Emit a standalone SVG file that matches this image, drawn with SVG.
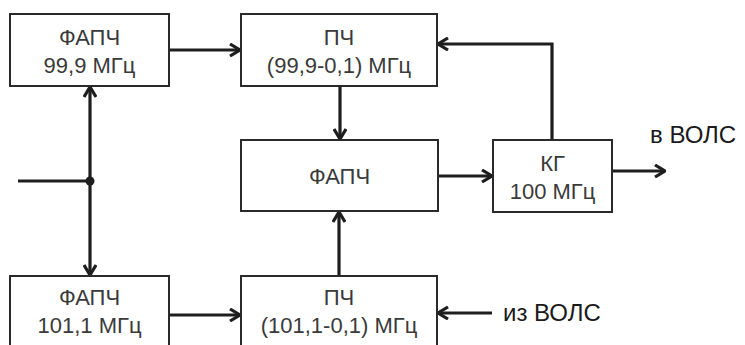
<svg xmlns="http://www.w3.org/2000/svg" width="745" height="345" viewBox="0 0 745 345">
<style>
.box{fill:#fff;stroke:#2a2a2a;stroke-width:2}
.t{font-family:"Liberation Sans",Arial,sans-serif;font-size:22px;fill:#3a3a3a;text-anchor:middle}
.lbl{font-family:"Liberation Sans",Arial,sans-serif;font-size:24px;fill:#1a1a1a}
.c{fill:none;stroke:#1e1e1e;stroke-width:3.2}
</style>
<defs>
<marker id="ah" viewBox="0 0 12 14" refX="11" refY="7" markerWidth="12" markerHeight="14" markerUnits="userSpaceOnUse" orient="auto">
<path d="M1,1 L11,7 L1,13" fill="none" stroke="#1e1e1e" stroke-width="3.2" stroke-linejoin="miter"/>
</marker>
</defs>
<g id="connectors">
<path class="c" d="M169,50 H240" marker-end="url(#ah)"/>
<path class="c" d="M552,140 V44 H438" marker-end="url(#ah)"/>
<path class="c" d="M340,86 V139" marker-end="url(#ah)"/>
<path class="c" d="M438,176 H492" marker-end="url(#ah)"/>
<path class="c" d="M612,171 H665" marker-end="url(#ah)"/>
<path class="c" d="M18,181 H90"/>
<path class="c" d="M90,181 V87" marker-end="url(#ah)"/>
<path class="c" d="M90,181 V275" marker-end="url(#ah)"/>
<circle cx="90" cy="181" r="4.5" fill="#1e1e1e"/>
<path class="c" d="M169,315 H240" marker-end="url(#ah)"/>
<path class="c" d="M339,276 V212" marker-end="url(#ah)"/>
<path class="c" d="M492,313 H438" marker-end="url(#ah)"/>
</g>
<g id="n1"><rect class="box" x="10" y="14" width="159" height="72"/><text class="t" x="89.5" y="45">ФАПЧ</text><text class="t" x="89.5" y="73">99,9 МГц</text></g>
<g id="n2"><rect class="box" x="241" y="14" width="196" height="72"/><text class="t" x="339" y="45">ПЧ</text><text class="t" x="339" y="73">(99,9-0,1) МГц</text></g>
<g id="n3"><rect class="box" x="241" y="140" width="197" height="71"/><text class="t" x="339.5" y="184">ФАПЧ</text></g>
<g id="n4"><rect class="box" x="493" y="140" width="119" height="72"/><text class="t" x="552.5" y="171">КГ</text><text class="t" x="552.5" y="199">100 МГц</text></g>
<g id="n5"><rect class="box" x="10" y="276" width="159" height="80"/><text class="t" x="89.5" y="305">ФАПЧ</text><text class="t" x="89.5" y="333">101,1 МГц</text></g>
<g id="n6"><rect class="box" x="241" y="276" width="196" height="80"/><text class="t" x="339" y="305">ПЧ</text><text class="t" x="339" y="333">(101,1-0,1) МГц</text></g>
<text class="lbl" x="650" y="143">в ВОЛС</text>
<text class="lbl" x="503" y="321">из ВОЛС</text>
</svg>
